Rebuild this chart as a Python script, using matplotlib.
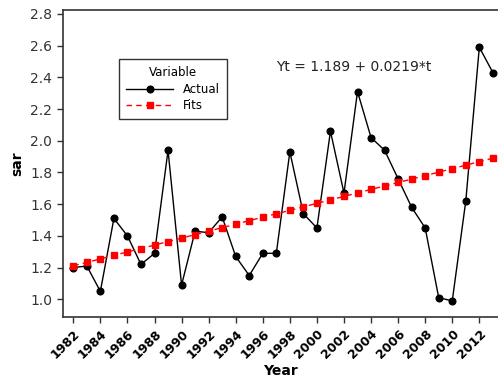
import matplotlib
matplotlib.use("Agg")
import matplotlib.pyplot as plt

# Data
years = list(range(1982, 2014))
actual = [1.20, 1.21, 1.05, 1.51, 1.40, 1.22, 1.29, 1.94, 1.09, 1.43,
          1.42, 1.52, 1.27, 1.15, 1.29, 1.29, 1.93, 1.54, 1.45, 2.06,
          1.67, 2.31, 2.02, 1.94, 1.76, 1.58, 1.45, 1.01, 0.99, 1.62,
          2.59, 2.43]
fits = [1.211, 1.233, 1.255, 1.277, 1.299, 1.320, 1.342, 1.364, 1.386, 1.408,
        1.430, 1.452, 1.474, 1.496, 1.518, 1.539, 1.561, 1.583, 1.605, 1.627,
        1.649, 1.671, 1.693, 1.715, 1.737, 1.758, 1.780, 1.802, 1.824, 1.846,
        1.868, 1.890]
x_ticks = list(range(1982, 2014, 2))
y_ticks = [1.0, 1.2, 1.4, 1.6, 1.8, 2.0, 2.2, 2.4, 2.6, 2.8]

plt.rcParams["font.family"] = "DejaVu Sans"

fig = plt.figure(figsize=(4.98, 3.83), dpi=100)
ax = fig.add_axes([0.126, 0.173, 0.874, 0.801])

ax.plot(years, actual, color="black", linewidth=1, marker="o",
        markersize=4.8, label="Actual")
ax.plot(years, fits, color="red", linewidth=1, linestyle=(0, (4, 3)),
        marker="s", markersize=4.8, label="Fits")

ax.set_xlim(1981.22, 2013.38)
ax.set_ylim(0.89, 2.825)
ax.set_xticks(x_ticks)
ax.set_xticklabels([str(y) for y in x_ticks], rotation=45, ha="right",
                   rotation_mode="anchor", fontsize=9, fontweight="bold")
ax.set_yticks(y_ticks)
ax.set_yticklabels([f"{v:.1f}" for v in y_ticks], fontsize=10, color="#333333")
ax.tick_params(direction="out", length=4, width=1, colors="#333333")
ax.tick_params(axis="x", labelcolor="black")

for s in ["left", "bottom", "top"]:
    ax.spines[s].set_color("#333333")
    ax.spines[s].set_linewidth(1.2)
ax.spines["right"].set_visible(False)

ax.set_xlabel("Year", fontsize=10, fontweight="bold", labelpad=2)
ax.set_ylabel("sar", fontsize=10, fontweight="bold", labelpad=4)

leg = ax.legend(title="Variable", loc="upper left",
                bbox_to_anchor=(0.129, 0.840), fontsize=8.5, title_fontsize=8.5,
                frameon=True, fancybox=False, edgecolor="black",
                handlelength=4, borderpad=0.6, labelspacing=0.3,
                borderaxespad=0)
leg.get_frame().set_linewidth(1)

ax.text(0.49, 0.80, "Yt = 1.189 + 0.0219*t", transform=ax.transAxes,
        fontsize=10, color="#222222")

fig.savefig("out.png", dpi=100)
